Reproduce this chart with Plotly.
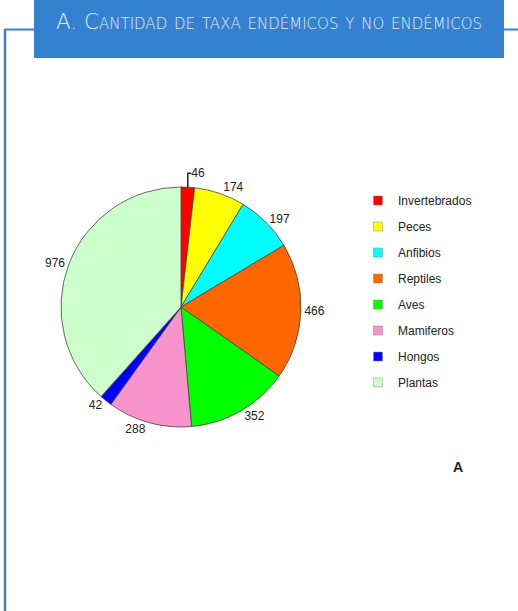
import plotly.graph_objects as go

categories = ["Invertebrados", "Peces", "Anfibios", "Reptiles", "Aves", "Mamiferos", "Hongos", "Plantas"]
values = [46, 174, 197, 466, 352, 288, 42, 976]
colors = ["#FF0000", "#FFFF00", "#00FFFF", "#FF6600", "#00FF00", "#F893CB", "#0000FF", "#CCFFCC"]
title_text = "A. Cantidad de taxa endémicos y no endémicos"
panel_label = "A"

W, H = 518, 611
BLUE = "#3481D0"

def px(x):
    return x / W

def py(y):
    return 1 - y / H

fig = go.Figure()

fig.add_trace(go.Pie(
    labels=categories,
    values=values,
    sort=False,
    direction="clockwise",
    rotation=0,
    marker=dict(colors=colors, line=dict(color="#444444", width=0.8)),
    texttemplate="%{value}",
    textposition="outside",
    textfont=dict(family="Liberation Sans, Arial", size=12, color="#222222"),
    showlegend=False,
    domain=dict(x=[px(61), px(301)], y=[py(427), py(187)]),
    hoverinfo="label+value",
))

# legend via marker-only entries
for i, (c, col) in enumerate(zip(categories, colors)):
    fig.add_trace(go.Scatter(
        x=[None], y=[None], mode="markers", name=c,
        marker=dict(symbol="square", size=9, color=col, line=dict(color="#888888", width=0.5)),
        legendgroup=str(i), showlegend=True,
    ))

fig.update_layout(
    width=W, height=H,
    margin=dict(l=0, r=0, t=0, b=0),
    paper_bgcolor="white", plot_bgcolor="white",
    xaxis=dict(visible=False), yaxis=dict(visible=False),
    legend=dict(
        x=px(358), y=py(186), xanchor="left", yanchor="top",
        font=dict(family="Liberation Sans, Arial", size=12, color="#222222"),
        tracegroupgap=7, itemwidth=30, bgcolor="rgba(0,0,0,0)",
    ),
    shapes=[
        dict(type="line", xref="paper", yref="paper", x0=px(5), x1=px(5), y0=py(29), y1=0,
             line=dict(color=BLUE, width=2.5)),
        dict(type="line", xref="paper", yref="paper", x0=px(5), x1=1, y0=py(29.5), y1=py(29.5),
             line=dict(color=BLUE, width=2)),
        dict(type="rect", xref="paper", yref="paper", x0=px(34), x1=px(504), y0=py(58), y1=1,
             fillcolor=BLUE, line=dict(width=0)),
    ],
    annotations=[
        dict(text=title_text, xref="paper", yref="paper", x=px(269), y=py(22),
             xanchor="center", yanchor="middle", showarrow=False,
             font=dict(family="DejaVu Sans", size=21.5, color="#E4ECF7", variant="small-caps", weight=200)),
        dict(text="<b>" + panel_label + "</b>", xref="paper", yref="paper", x=px(458), y=py(467),
             xanchor="center", yanchor="middle", showarrow=False,
             font=dict(family="Liberation Sans, Arial", size=14, color="#222222")),
    ],
)

fig.write_html("out.html", config={"displayModeBar": False},
               post_script="document.body.style.margin='0';")
